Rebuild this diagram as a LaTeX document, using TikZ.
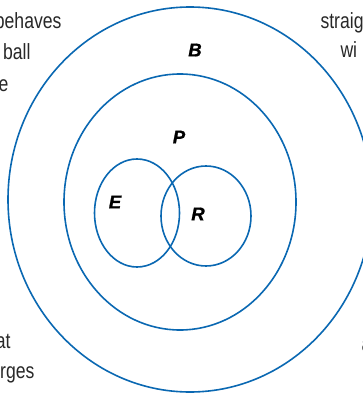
\documentclass[tikz,border=0pt]{standalone}
\usepackage{fontspec}
\setmainfont{Liberation Sans}
\newfontfamily\narrowfont[FakeStretch=0.8]{Liberation Sans}
\newfontfamily\heavyfont[FakeBold=1.2]{Liberation Sans}
\usetikzlibrary{shapes.geometric}
\definecolor{setblue}{RGB}{10,104,178}
\definecolor{textgray}{RGB}{40,40,40}

\begin{document}
\begin{tikzpicture}[x=1pt, y=1pt,
    ring/.style={draw=setblue, line width=1.6pt, ellipse, inner sep=0pt},
    setlabel/.style={font=\heavyfont\fontsize{18.5}{18.5}\selectfont\bfseries\itshape, text=black},
    sidetext/.style={font=\narrowfont\fontsize{22}{22}\selectfont, text=textgray}
  ]
    \useasboundingbox (0,0) rectangle (363,-393);
    \clip (0,0) rectangle (363,-393);

    % sets
    \node[ring, minimum width=364pt, minimum height=385pt] (bset) at (190,-199.5) {};
    \node[ring, minimum width=232pt, minimum height=256pt] (pset) at (180,-202) {};
    \node[ring, minimum width=85pt,  minimum height=108pt] (eset) at (137,-213) {};
    \node[ring, minimum width=90pt,  minimum height=100pt] (rset) at (206,-216) {};

    % set names
    \node[setlabel] (blab) at (195,-50)  {B};
    \node[setlabel] (plab) at (179,-137) {P};
    \node[setlabel] (elab) at (115,-202) {E};
    \node[setlabel] (rlab) at (198,-214) {R};

    % text cut off at the edges
    \node[sidetext, anchor=base east] (tl1) at (65,-29)  {behaves};
    \node[sidetext, anchor=base east] (tl2) at (34,-60)  {ball};
    \node[sidetext, anchor=base east] (tl3) at (12,-92)  {e};
    \node[sidetext, anchor=base east] (bl1) at (14,-348) {at};
    \node[sidetext, anchor=base east] (bl2) at (38,-378) {rges};
    \node[sidetext, anchor=base west] (tr1) at (317,-29) {straig};
    \node[sidetext, anchor=base west] (tr2) at (337,-58) {wi};
    \node[sidetext, anchor=base west] (br1) at (358,-351) {a};
  \end{tikzpicture}
\end{document}
